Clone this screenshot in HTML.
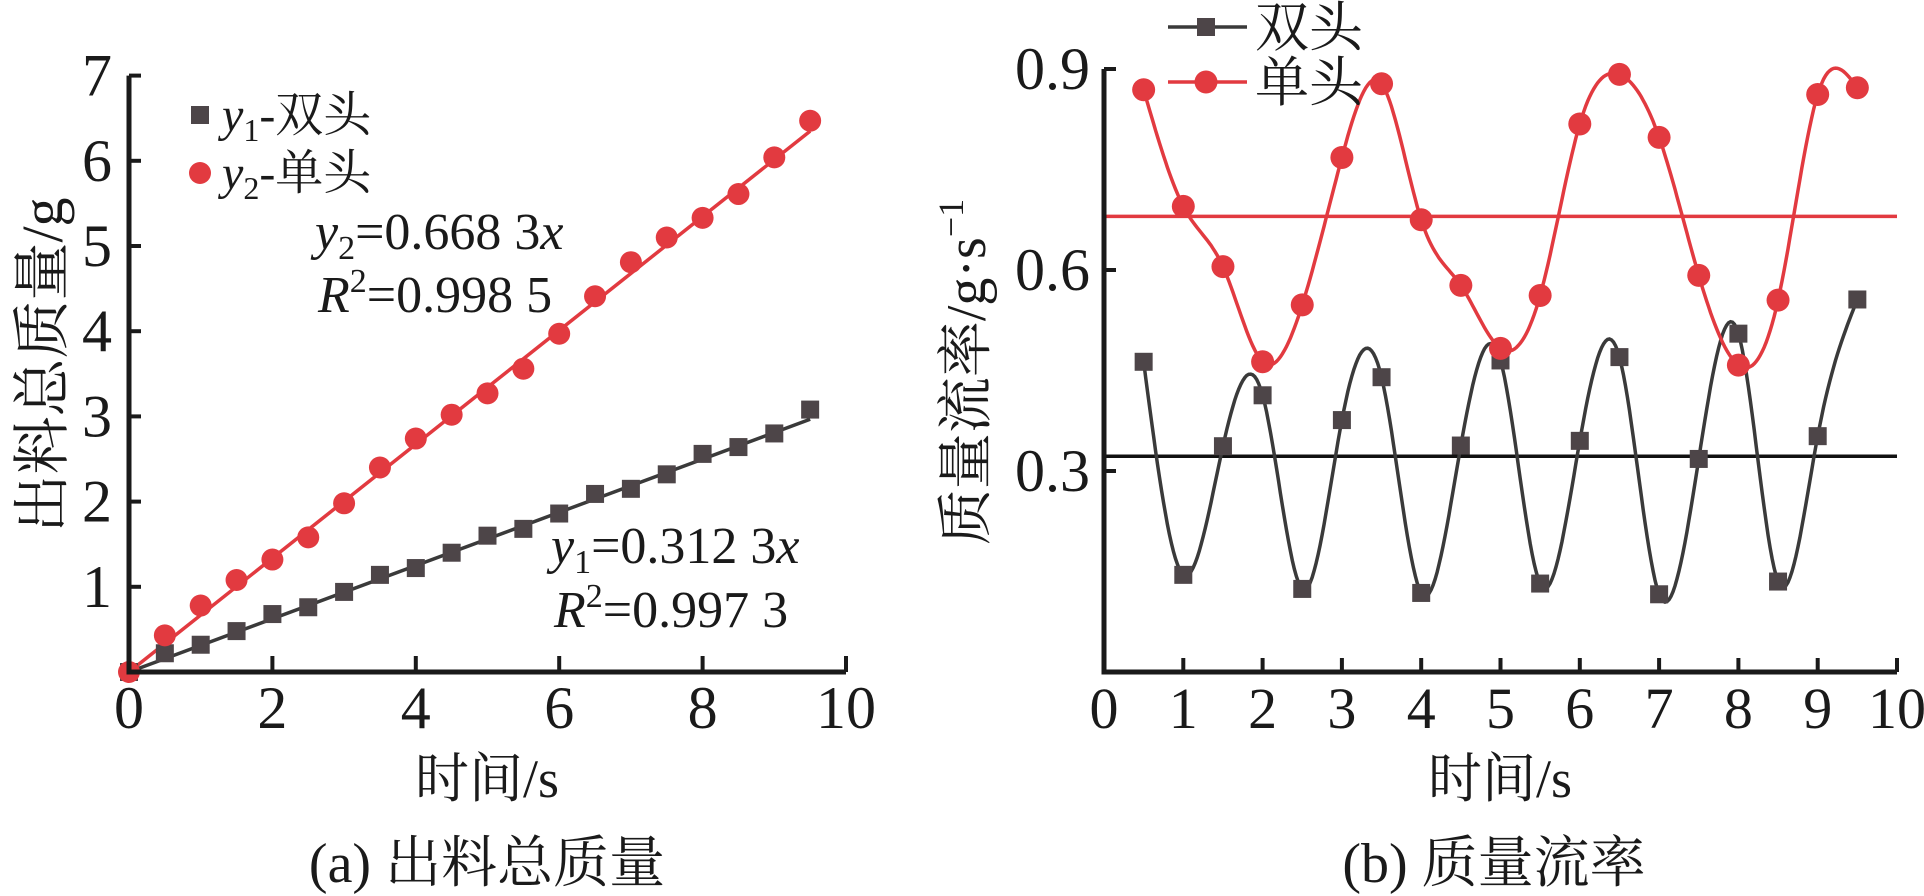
<!DOCTYPE html>
<html><head><meta charset="utf-8">
<style>
html,body{margin:0;padding:0;background:#fff;}
svg{display:block;}
text{font-family:"Liberation Serif","Noto Serif CJK SC",serif;fill:#1a1a1a;}
</style></head>
<body>
<svg id="chart" width="1924" height="896" viewBox="0 0 1924 896" xmlns="http://www.w3.org/2000/svg"></svg>
<script>
// ---- Left chart data ----
const timesA = [0,0.5,1,1.5,2,2.5,3,3.5,4,4.5,5,5.5,6,6.5,7,7.5,8,8.5,9,9.5];
const massDouble = [0,0.22,0.32,0.48,0.68,0.76,0.94,1.14,1.22,1.40,1.60,1.68,1.86,2.09,2.15,2.32,2.56,2.64,2.80,3.08];
const massSingle = [0,0.43,0.78,1.08,1.32,1.58,1.98,2.40,2.74,3.02,3.27,3.56,3.97,4.41,4.81,5.10,5.33,5.61,6.04,6.47];
const slopeDouble = 0.3123;
const slopeSingle = 0.6683;
const xTicksA = [0,2,4,6,8,10];
const yTicksA = [1,2,3,4,5,6,7];
// ---- Right chart data ----
const timesB = [0.5,1,1.5,2,2.5,3,3.5,4,4.5,5,5.5,6,6.5,7,7.5,8,8.5,9,9.5];
const rateDouble = [0.463,0.145,0.337,0.413,0.124,0.376,0.44,0.118,0.338,0.465,0.132,0.345,0.47,0.116,0.318,0.505,0.135,0.352,0.556];
const rateSingle = [0.869,0.695,0.605,0.463,0.548,0.768,0.878,0.675,0.577,0.483,0.562,0.818,0.892,0.798,0.592,0.458,0.555,0.862,0.872];
const meanDouble = [0.322];
const meanSingle = [0.68];
const xTicksB = [0,1,2,3,4,5,6,7,8,9,10];
const yTicksB = [0.3,0.6,0.9];

const NS="http://www.w3.org/2000/svg";
const svg=document.getElementById('chart');
function mk(tag,attrs,parent){const e=document.createElementNS(NS,tag);for(const k in attrs)e.setAttribute(k,attrs[k]);(parent||svg).appendChild(e);return e;}
const RED="#e23a40", DARK="#4d4548", LINE="#3a3a3a";

// axis functions
const xA=v=>129+v*71.7, yA=v=>672-v*85.2;
const xB=v=>1104+v*79.3, yB=v=>672-v*(201/0.3);

function spline(xs,ys){ // natural cubic spline
  const n=xs.length, h=[], a=[], l=[1], mu=[0], z=[0], c=new Array(n).fill(0), b=[], d=[];
  for(let i=0;i<n-1;i++)h.push(xs[i+1]-xs[i]);
  for(let i=1;i<n-1;i++)a[i]=3/h[i]*(ys[i+1]-ys[i])-3/h[i-1]*(ys[i]-ys[i-1]);
  for(let i=1;i<n-1;i++){l[i]=2*(xs[i+1]-xs[i-1])-h[i-1]*mu[i-1];mu[i]=h[i]/l[i];z[i]=(a[i]-h[i-1]*z[i-1])/l[i];}
  l[n-1]=1;z[n-1]=0;
  for(let j=n-2;j>=0;j--){c[j]=z[j]-mu[j]*c[j+1];b[j]=(ys[j+1]-ys[j])/h[j]-h[j]*(c[j+1]+2*c[j])/3;d[j]=(c[j+1]-c[j])/(3*h[j]);}
  const pts=[];
  for(let i=0;i<n-1;i++){for(let s=0;s<20;s++){const t=h[i]*s/20;pts.push([xs[i]+t,ys[i]+b[i]*t+c[i]*t*t+d[i]*t*t*t]);}}
  pts.push([xs[n-1],ys[n-1]]);
  return pts;
}

// ===== Left chart =====
const gA=mk('g',{});


// fit lines
let fl=mk('line',{x1:xA(0),y1:yA(0),x2:xA(9.5),y2:yA(9.5*slopeSingle),stroke:RED,'stroke-width':3.5},gA);


fl=mk('line',{x1:xA(0),y1:yA(0),x2:xA(9.5),y2:yA(9.5*slopeDouble),stroke:LINE,'stroke-width':3.5},gA);


timesA.forEach((t,i)=>{
  const r=mk('rect',{x:xA(t)-9,y:yA(massDouble[i])-9,width:18,height:18,fill:DARK},gA);
  
  
});
timesA.forEach((t,i)=>{
  const c=mk('circle',{cx:xA(t),cy:yA(massSingle[i]),r:11,fill:RED},gA);
  
  
});
// axes
let ax=mk('path',{d:`M${xA(0)},${yA(7)} V${yA(0)} H${xA(10)}`,fill:'none',stroke:'#1a1a1a','stroke-width':5},gA);


xTicksA.forEach(v=>{
  if(v>0){const tk=mk('line',{x1:xA(v),y1:yA(0),x2:xA(v),y2:yA(0)-16,stroke:'#1a1a1a','stroke-width':4},gA);
  
  }
  const tl=mk('text',{x:xA(v),y:728,'font-size':60,'text-anchor':'middle'},gA);
  tl.textContent=v;
  
  
});
yTicksA.forEach(v=>{
  const tk=mk('line',{x1:xA(0),y1:yA(v),x2:xA(0)+12,y2:yA(v),stroke:'#1a1a1a','stroke-width':4},gA);
  
  
  const tl=mk('text',{x:112,y:yA(v)+20,'font-size':60,'text-anchor':'end'},gA);
  tl.textContent=v;
  
  
});
</script>
<script>
// static text for chart A and chart B drawn after data scripts
</script>
<script>
(function(){
const g=svg;
function T(x,y,size,html,name,anchor,extra){const t=document.createElementNS(NS,'text');t.setAttribute('x',x);t.setAttribute('y',y);t.setAttribute('font-size',size);t.setAttribute('text-anchor',anchor||'start');if(extra)for(const k in extra)t.setAttribute(k,extra[k]);t.innerHTML=html;g.appendChild(t);return t;}
// Chart A texts
T(487,797,54,'时间/s','x-axis-title-a','middle');
T(487,882,56,'(a) 出料总质量','caption-a','middle');
T(0,0,58,'出料总质量/g','y-axis-title-a','middle',{transform:'translate(62,365) rotate(-90)'});
// legend A
let r=mk('rect',{x:191,y:106,width:18,height:18,fill:DARK});


let c=mk('circle',{cx:200,cy:173,r:11,fill:RED});


T(222,131,48,'<tspan font-style="italic">y</tspan><tspan font-size="32" dy="10">1</tspan><tspan dy="-10">-双头</tspan>','legend-entry-double');
T(222,189,48,'<tspan font-style="italic">y</tspan><tspan font-size="32" dy="10">2</tspan><tspan dy="-10">-单头</tspan>','legend-entry-single');
T(315,249,52,'<tspan font-style="italic">y</tspan><tspan font-size="34" dy="10">2</tspan><tspan dy="-10">=0.668 3</tspan><tspan font-style="italic">x</tspan>','equation-single');
T(318,312,52,'<tspan font-style="italic">R</tspan><tspan font-size="34" dy="-20">2</tspan><tspan dy="20">=0.998 5</tspan>','r2-single');
T(551,563,52,'<tspan font-style="italic">y</tspan><tspan font-size="34" dy="10">1</tspan><tspan dy="-10">=0.312 3</tspan><tspan font-style="italic">x</tspan>','equation-double');
T(554,627,52,'<tspan font-style="italic">R</tspan><tspan font-size="34" dy="-20">2</tspan><tspan dy="20">=0.997 3</tspan>','r2-double');

// ===== Chart B =====
const gB=mk('g',{});


let ml=mk('line',{x1:xB(0),y1:yB(meanSingle[0]),x2:xB(10),y2:yB(meanSingle[0]),stroke:RED,'stroke-width':3.5},gB);


ml=mk('line',{x1:xB(0),y1:yB(meanDouble[0]),x2:xB(10),y2:yB(meanDouble[0]),stroke:'#111','stroke-width':3.5},gB);


const sd=spline(timesB,rateDouble).map(p=>xB(p[0]).toFixed(1)+','+yB(p[1]).toFixed(1)).join(' ');
let pl=mk('polyline',{points:sd,fill:'none',stroke:LINE,'stroke-width':3.5},gB);


const ss=spline(timesB,rateSingle).map(p=>xB(p[0]).toFixed(1)+','+yB(p[1]).toFixed(1)).join(' ');
pl=mk('polyline',{points:ss,fill:'none',stroke:RED,'stroke-width':3.5},gB);


timesB.forEach((t,i)=>{
  const q=mk('rect',{x:xB(t)-9,y:yB(rateDouble[i])-9,width:18,height:18,fill:DARK},gB);
  
  
});
timesB.forEach((t,i)=>{
  const q=mk('circle',{cx:xB(t),cy:yB(rateSingle[i]),r:11.5,fill:RED},gB);
  
  
});
let axb=mk('path',{d:`M${xB(0)},${yB(0.9)} V${yB(0)} H${xB(10)}`,fill:'none',stroke:'#1a1a1a','stroke-width':5},gB);


xTicksB.forEach(v=>{
  if(v>0){const tk=mk('line',{x1:xB(v),y1:yB(0),x2:xB(v),y2:yB(0)-14,stroke:'#1a1a1a','stroke-width':4},gB);
  
  }
  const tl=mk('text',{x:xB(v),y:728,'font-size':58,'text-anchor':'middle'},gB);
  tl.textContent=v;
  
  
});
yTicksB.forEach(v=>{
  const tk=mk('line',{x1:xB(0),y1:yB(v),x2:xB(0)+12,y2:yB(v),stroke:'#1a1a1a','stroke-width':4},gB);
  
  
  const tl=mk('text',{x:1090,y:yB(v)+20,'font-size':60,'text-anchor':'end'},gB);
  tl.textContent=v.toFixed(1);
  
  
});
T(1500,797,54,'时间/s','x-axis-title-b','middle');
T(1494,882,56,'(b) 质量流率','caption-b','middle');
T(0,0,56,'质量流率/g·s<tspan font-size="36" dy="-22">−1</tspan>','y-axis-title-b','middle',{transform:'translate(985,372) rotate(-90)'});
// legend B
let ll=mk('line',{x1:1168,y1:27,x2:1247,y2:27,stroke:LINE,'stroke-width':3.5});


r=mk('rect',{x:1197,y:18,width:18,height:18,fill:DARK});


ll=mk('line',{x1:1168,y1:82,x2:1247,y2:82,stroke:RED,'stroke-width':3.5});


c=mk('circle',{cx:1206,cy:82,r:11.5,fill:RED});


T(1255,46,54,'双头','legend-entry-double');
T(1255,101,54,'单头','legend-entry-single');
})();
</script>
</body></html>
